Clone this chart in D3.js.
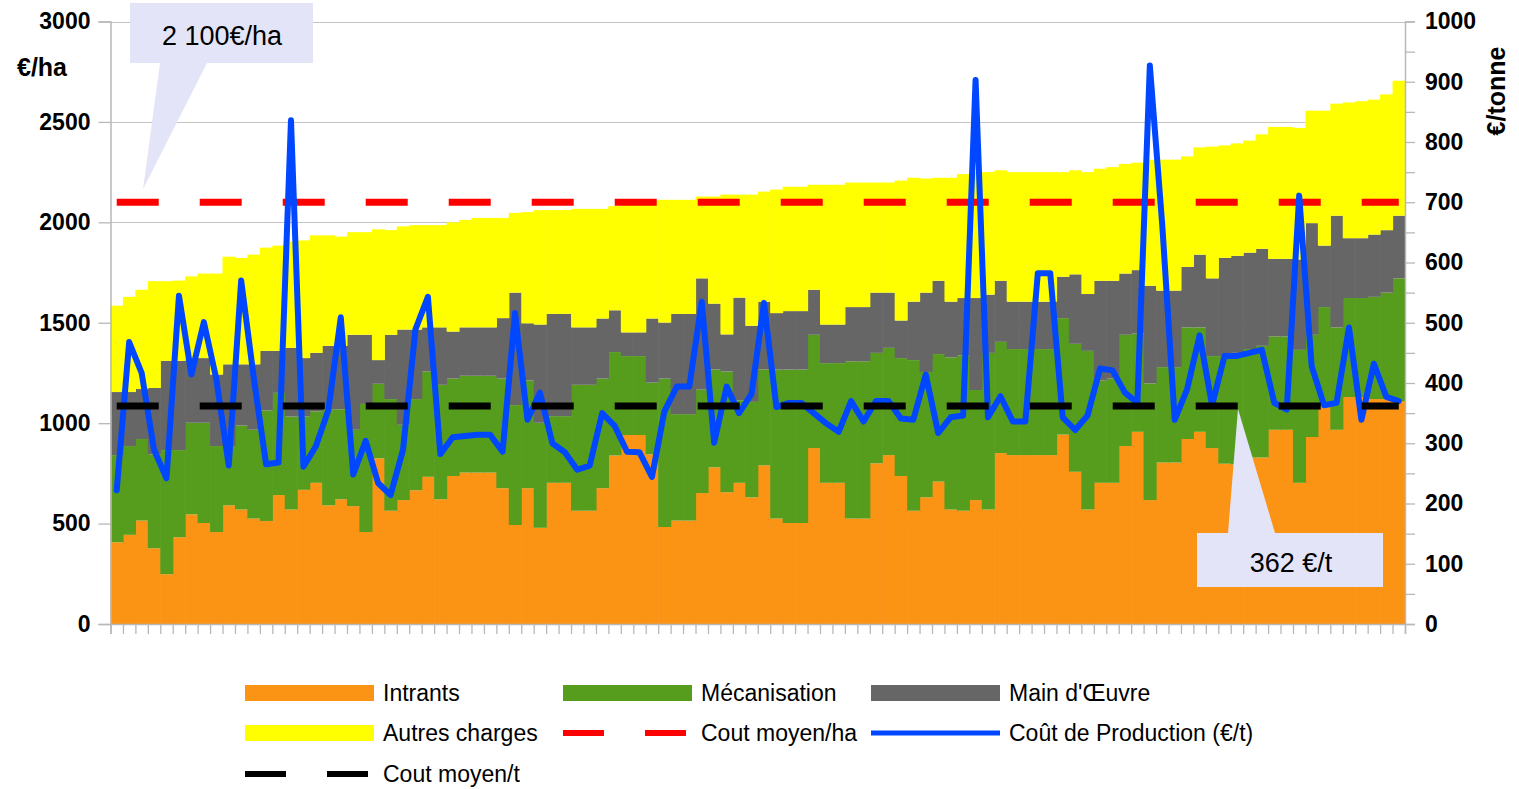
<!DOCTYPE html>
<html><head><meta charset="utf-8">
<script src="https://cdn.jsdelivr.net/npm/d3@7"></script>
<style>
body{margin:0;background:#fff;}
svg{display:block;font-family:"Liberation Sans",Arial,sans-serif;}
</style>
</head><body>
<svg id="chart" width="1519" height="789"></svg>
<script>
// ---- data (€/ha per farm, sorted by total cost) ----
const intrants = [407,444,515,377,248,432,546,503,458,591,
570,525,513,642,570,668,703,591,621,587,
458,825,564,617,666,733,621,737,754,754,
754,676,493,676,479,703,703,564,564,676,
839,941,941,845,483,515,515,652,780,656,
703,631,790,525,503,503,876,703,703,525,
525,800,841,737,564,631,709,570,564,617,
570,851,841,841,841,841,943,758,570,703,
703,886,957,617,804,804,921,957,876,798,
794,829,829,967,967,703,931,1083,967,1130,
1130,1120,1120,1110];
const mecanisation = [434,442,406,468,618,434,456,499,428,295,
418,442,550,509,463,365,356,478,448,380,
638,371,556,375,454,524,570,485,482,482,
482,546,597,536,523,332,332,627,627,546,
515,393,393,357,739,530,530,515,487,601,
411,475,477,742,764,764,564,596,596,783,
783,550,534,587,750,624,635,758,774,548,
780,554,528,528,528,528,580,637,790,509,
519,554,489,581,475,475,556,520,458,536,
556,540,556,465,465,662,509,495,510,493,
493,509,530,611];
const mainOeuvre = [314,269,249,330,444,444,322,322,356,407,
305,326,297,209,342,291,291,316,316,473,
344,118,320,474,346,220,286,234,241,241,
241,301,560,285,489,509,509,286,286,299,
208,118,118,319,279,499,499,554,328,185,
511,379,338,281,291,291,224,192,192,270,
270,300,275,187,291,395,365,277,285,458,
290,304,236,236,236,236,206,346,283,497,
487,305,316,486,381,381,301,362,387,489,
483,480,483,386,386,450,556,306,556,298,
298,310,311,312];
const autresCharges = [430,474,494,532,397,400,407,421,503,536,
530,546,514,524,529,586,585,550,544,511,
511,651,521,514,520,509,509,544,535,545,
545,499,397,554,570,517,517,590,590,546,
519,636,656,587,611,568,568,407,533,696,
513,653,548,615,619,619,523,696,696,620,
620,548,548,697,617,568,513,617,617,627,
610,550,645,645,645,645,521,518,607,558,
566,546,535,628,652,652,550,534,656,560,
560,558,570,657,657,655,560,672,558,676,
682,672,676,672];
// €/t
const coutProduction = [222,468,417,289,242,545,414,501,407,263,
570,410,265,268,836,261,295,355,509,248,
304,234,214,289,489,543,282,310,312,314,
314,286,516,339,384,300,285,256,263,350,
329,286,285,244,353,394,394,535,301,394,
350,382,533,360,367,367,350,333,319,370,
336,370,370,341,339,414,317,343,346,903,
343,378,336,336,582,582,343,322,346,424,
421,384,367,927,662,339,390,479,363,445,
445,450,455,367,356,711,428,363,367,492,
339,432,377,370];
const coutMoyenHa = 2100;   // €/ha
const coutMoyenT = 362;     // €/t
const leftTicks = [0,500,1000,1500,2000,2500,3000];
const rightTicks = [0,50,100,150,200,250,300,350,400,450,500,550,600,650,700,750,800,850,900,950,1000];
const seriesNames = ["Intrants","Mécanisation","Main d'Œuvre","Autres charges"];
const seriesColors = ["#fb9314","#569d1e","#666666","#ffff00"];
const calloutHa = "2 100€/ha";
const calloutT = "362 €/t";

(function () {
const svg = d3.select("#chart");
const N = intrants.length;
const pL = 110.5, pR = 1405, pT = 21.5, pB = 624;
const x = d3.scaleBand().domain(d3.range(N)).range([pL, pR]).padding(0);
const xb = d3.scaleLinear().domain([0, N]).range([pL, pR]);
const y = d3.scaleLinear().domain([0, 3000]).range([pB, pT]);
const y2 = d3.scaleLinear().domain([0, 1000]).range([pB, pT]);
const bw = x.bandwidth();

// gridlines
svg.append("g").selectAll("line").data(leftTicks.filter(d => d > 0)).join("line")
  .attr("x1", pL).attr("x2", pR)
  .attr("y1", d => Math.round(y(d)) + 0.5).attr("y2", d => Math.round(y(d)) + 0.5)
  .attr("stroke", "#c4c4c4").attr("stroke-width", 1.2);

// stacked bars
const table = d3.range(N).map(i => ({i, a: intrants[i], b: mecanisation[i], c: mainOeuvre[i], d: autresCharges[i]}));
const stack = d3.stack().keys(["a","b","c","d"])(table);
svg.append("g").selectAll("g").data(stack).join("g")
  .attr("fill", (d, k) => seriesColors[k])
  .selectAll("rect").data(d => d).join("rect")
  .attr("x", d => x(d.data.i))
  .attr("width", bw + 0.6)
  .attr("y", d => y(d[1]))
  .attr("height", d => y(d[0]) - y(d[1]));

// axes
const axL = svg.append("g").attr("transform", `translate(${pL},0)`)
  .call(d3.axisLeft(y).tickValues(leftTicks).tickSize(12).tickPadding(8).tickFormat(d3.format("d")));
const axR = svg.append("g").attr("transform", `translate(${pR},0)`)
  .call(d3.axisRight(y2).tickValues(rightTicks).tickSize(10).tickPadding(10)
    .tickFormat(d => d % 100 === 0 ? d : ""));
const axB = svg.append("g").attr("transform", `translate(0,${pB})`)
  .call(d3.axisBottom(xb).tickValues(d3.range(N + 1)).tickSize(10).tickFormat(""));
[axL, axR, axB].forEach(g => {
  g.selectAll(".domain").attr("stroke", "#b8b8b8").attr("stroke-width", 1.5);
  g.selectAll(".tick line").attr("stroke", "#b8b8b8").attr("stroke-width", 1.3);
  g.selectAll("text").attr("font-family", "'Liberation Sans',Arial,sans-serif")
    .attr("font-size", 23).attr("font-weight", "bold").attr("fill", "#000");
});

// axis titles
svg.append("text").attr("x", 42).attr("y", 76).attr("text-anchor", "middle")
  .attr("font-size", 25).attr("font-weight", "bold").text("€/ha");
svg.append("text").attr("transform", "translate(1505,91) rotate(-90)").attr("text-anchor", "middle")
  .attr("font-size", 25).attr("font-weight", "bold").text("€/tonne");

// lines
const xc = i => x(i) + bw / 2;
svg.append("line").attr("x1", xc(0)).attr("x2", xc(N - 1))
  .attr("y1", y(coutMoyenHa)).attr("y2", y(coutMoyenHa))
  .attr("stroke", "#ff0000").attr("stroke-width", 7).attr("stroke-dasharray", "42,41");
svg.append("path").datum(coutProduction)
  .attr("d", d3.line().x((d, i) => xc(i)).y(d => y2(d)))
  .attr("fill", "none").attr("stroke", "#0047ff").attr("stroke-width", 6)
  .attr("stroke-linejoin", "round").attr("stroke-linecap", "round");
svg.append("line").attr("x1", xc(0)).attr("x2", xc(N - 1))
  .attr("y1", y2(coutMoyenT)).attr("y2", y2(coutMoyenT))
  .attr("stroke", "#000").attr("stroke-width", 7).attr("stroke-dasharray", "42,41");

// callouts
const tip1 = y(coutMoyenHa) - 13;
svg.append("path").attr("d", `M130,3 H313 V63 H207 L143,${tip1} L160,63 H130 Z`).attr("fill", "#e4e4f8");
svg.append("text").attr("x", 222).attr("y", 45).attr("text-anchor", "middle")
  .attr("font-size", 27).text(calloutHa);
const tip2 = y2(coutMoyenT) + 3;
svg.append("path").attr("d", `M1197,533 H1228 L1238,${tip2} L1275,533 H1383 V587 H1197 Z`).attr("fill", "#e4e4f8");
svg.append("text").attr("x", 1291).attr("y", 572).attr("text-anchor", "middle")
  .attr("font-size", 27).text(calloutT);

// legend
const legendItems = [
  {name: seriesNames[0], type: "rect", color: seriesColors[0], col: 0, row: 0},
  {name: seriesNames[1], type: "rect", color: seriesColors[1], col: 1, row: 0},
  {name: seriesNames[2], type: "rect", color: seriesColors[2], col: 2, row: 0},
  {name: seriesNames[3], type: "rect", color: seriesColors[3], col: 0, row: 1},
  {name: "Cout moyen/ha", type: "dash", color: "#ff0000", col: 1, row: 1},
  {name: "Coût de Production (€/t)", type: "line", color: "#0047ff", col: 2, row: 1},
  {name: "Cout moyen/t", type: "dash", color: "#000000", col: 0, row: 2}
];
const colX = [245, 563, 871], rowY = [693, 733, 774];
const lg = svg.append("g").selectAll("g").data(legendItems).join("g")
  .attr("transform", d => `translate(${colX[d.col]},${rowY[d.row]})`);
lg.filter(d => d.type === "rect").append("rect")
  .attr("x", 0).attr("y", -8).attr("width", 129).attr("height", 16).attr("fill", d => d.color);
lg.filter(d => d.type === "dash").append("line")
  .attr("x1", 0).attr("x2", 129).attr("y1", 0).attr("y2", 0)
  .attr("stroke", d => d.color).attr("stroke-width", 6).attr("stroke-dasharray", "41,41");
lg.filter(d => d.type === "line").append("line")
  .attr("x1", 0).attr("x2", 129).attr("y1", 0).attr("y2", 0)
  .attr("stroke", d => d.color).attr("stroke-width", 5);
lg.append("text").attr("x", 138).attr("y", 8).attr("font-size", 23).attr("fill", "#000")
  .text(d => d.name);
})();
</script>
</body></html>
